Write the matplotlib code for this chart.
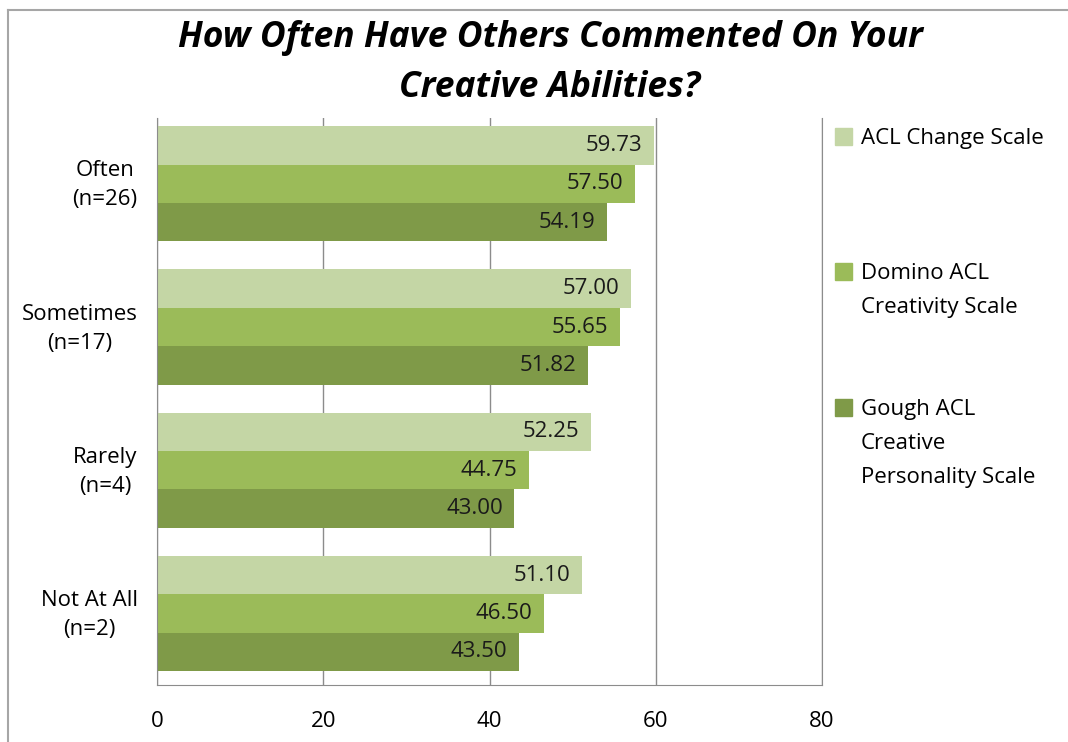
import numpy as np
import matplotlib.pyplot as plt
from matplotlib.lines import Line2D
from matplotlib.transforms import ScaledTranslation

plt.rcParams['font.family'] = ['Open Sans', 'DejaVu Sans']

categories = ['Often\n(n=26)', 'Sometimes\n(n=17)', 'Rarely\n(n=4)', 'Not At All\n(n=2)']
series_names = ['ACL Change Scale', 'Domino ACL\nCreativity Scale', 'Gough ACL\nCreative\nPersonality Scale']
acl_change = [59.73, 57.00, 52.25, 51.10]
domino = [57.50, 55.65, 44.75, 46.50]
gough = [54.19, 51.82, 43.00, 43.50]
colors = ['#c4d6a5', '#9bbb59', '#7f9a48']

W, H = 1068, 742
fig = plt.figure(figsize=(W / 100, H / 100), dpi=100)
ax = fig.add_axes([157/W, 1 - 685/H, (822-157)/W, (685-118)/H])

# outer chart frame (left and top edges visible)
fig.add_artist(Line2D([8/W, 8/W], [0, 1 - 10/H], color='#a6a6a6', lw=1.5))
fig.add_artist(Line2D([8/W, 1], [1 - 10/H, 1 - 10/H], color='#a6a6a6', lw=1.5))

y = np.arange(len(categories))
h = 0.268
for i, vals in enumerate([acl_change, domino, gough]):
    pos = y + (i - 1) * h
    ax.barh(pos, vals, height=h, color=colors[i], zorder=2)
    for p, v in zip(pos, vals):
        ax.text(v - 1.4, p, f'{v:.2f}', ha='right', va='center', fontsize=16, color='#1a1a1a', zorder=3)

ax.set_xlim(0, 80)
ax.set_ylim(3.5, -0.46)
ax.set_xticks([0, 20, 40, 60, 80])
ax.tick_params(axis='x', length=0, pad=19, labelsize=16)
ax.set_yticks(y)
ax.set_yticklabels(categories, fontsize=16, ha='right', multialignment='center', linespacing=1.5)
ax.tick_params(axis='y', length=0, pad=14)
# nudge category labels up a little
nudge = ScaledTranslation(0, 5 / 100, fig.dpi_scale_trans)
for lab in ax.get_yticklabels():
    lab.set_transform(lab.get_transform() + nudge)
ax.grid(axis='x', color='#8c8c8c', lw=1, zorder=1)
for s in ['left', 'bottom', 'right']:
    ax.spines[s].set_color('#8c8c8c')
ax.spines['top'].set_visible(False)

fig.text(550/W, 1 - 63/H, 'How Often Have Others Commented On Your\nCreative Abilities?',
         ha='center', va='center', fontsize=25.5, fontweight='bold', fontstyle='italic',
         linespacing=1.5)

# legend entries placed by hand in figure space
leg_y = [136, 271, 407]
for name, c, ly in zip(series_names, colors, leg_y):
    fig.add_artist(plt.Rectangle((835/W, 1 - (ly + 9)/H), 17/W, 17/H,
                                 color=c, transform=fig.transFigure))
    fig.text(861/W, 1 - (ly - 8)/H, name, ha='left', va='top', fontsize=16,
             linespacing=1.8)

fig.savefig('out.png', dpi=100)
